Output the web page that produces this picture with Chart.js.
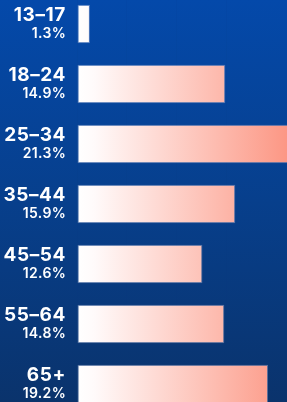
<!DOCTYPE html>
<html>
<head>
<meta charset="utf-8">
<script src="https://cdn.jsdelivr.net/npm/chart.js@4.4.1/dist/chart.umd.min.js"></script>
<style>
  html, body {
    margin: 0;
    padding: 0;
    width: 287px;
    height: 402px;
    overflow: hidden;
    background: linear-gradient(180deg, #0449aa 0%, #073f8c 50%, #0a336c 100%);
  }
  #wrap {
    position: absolute;
    left: 0;
    top: -6px;
    width: 296px;
    height: 420px;
  }
</style>
</head>
<body>
<div id="wrap"><canvas id="ageChart"></canvas></div>
<script>
const ageGroups = ["13–17", "18–24", "25–34", "35–44", "45–54", "55–64", "65+"];
const shares = [1.3, 14.9, 21.3, 15.9, 12.6, 14.8, 19.2];
const shareLabels = ["1.3%", "14.9%", "21.3%", "15.9%", "12.6%", "14.8%", "19.2%"];

const ctx = document.getElementById("ageChart");

function barFill(context) {
  const chart = context.chart;
  const area = chart.chartArea;
  if (!area) return "#ffffff";
  const xs = chart.scales.x;
  const g = chart.ctx.createLinearGradient(xs.getPixelForValue(0), 0, xs.getPixelForValue(21.3), 0);
  g.addColorStop(0, "#ffffff");
  g.addColorStop(0.08, "#fffafa");
  g.addColorStop(1, "#fc9683");
  return g;
}

// two-line labels left of each bar
const sideLabels = {
  id: "sideLabels",
  afterDraw(chart) {
    const c = chart.ctx;
    const ys = chart.scales.y;
    const xRight = chart.chartArea.left - 11;
    c.save();
    c.fillStyle = "#ffffff";
    c.textAlign = "right";
    c.textBaseline = "alphabetic";
    ageGroups.forEach((g, i) => {
      const y = ys.getPixelForValue(i);
      c.font = "bold 19px Inter";
      c.letterSpacing = "0.6px";
      c.fillText(g, xRight, y - 3.3);
      c.font = "600 14px Inter";
      c.letterSpacing = "0.3px";
      c.fillText(shareLabels[i], xRight, y + 14.3);
    });
    c.restore();
  }
};

new Chart(ctx, {
  type: "bar",
  data: {
    labels: ageGroups,
    datasets: [{
      data: shares,
      backgroundColor: barFill,
      borderColor: "rgba(175,185,215,0.45)",
      borderWidth: 1,
      borderSkipped: false,
      categoryPercentage: 1,
      barPercentage: 0.64,
    }],
  },
  options: {
    indexAxis: "y",
    responsive: true,
    maintainAspectRatio: false,
    animation: false,
    layout: { padding: { left: 77, right: 0, top: 0, bottom: 0 } },
    plugins: {
      legend: { display: false },
      tooltip: { enabled: false },
    },
    scales: {
      x: {
        min: 0,
        max: 22,
        ticks: { display: false, stepSize: 5 },
        border: { display: false },
        grid: { color: "rgba(20,60,130,0.07)", drawTicks: false, lineWidth: 1 },
        z: 1,
      },
      y: {
        display: false,
      },
    },
  },
  plugins: [sideLabels],
});
</script>
</body>
</html>
